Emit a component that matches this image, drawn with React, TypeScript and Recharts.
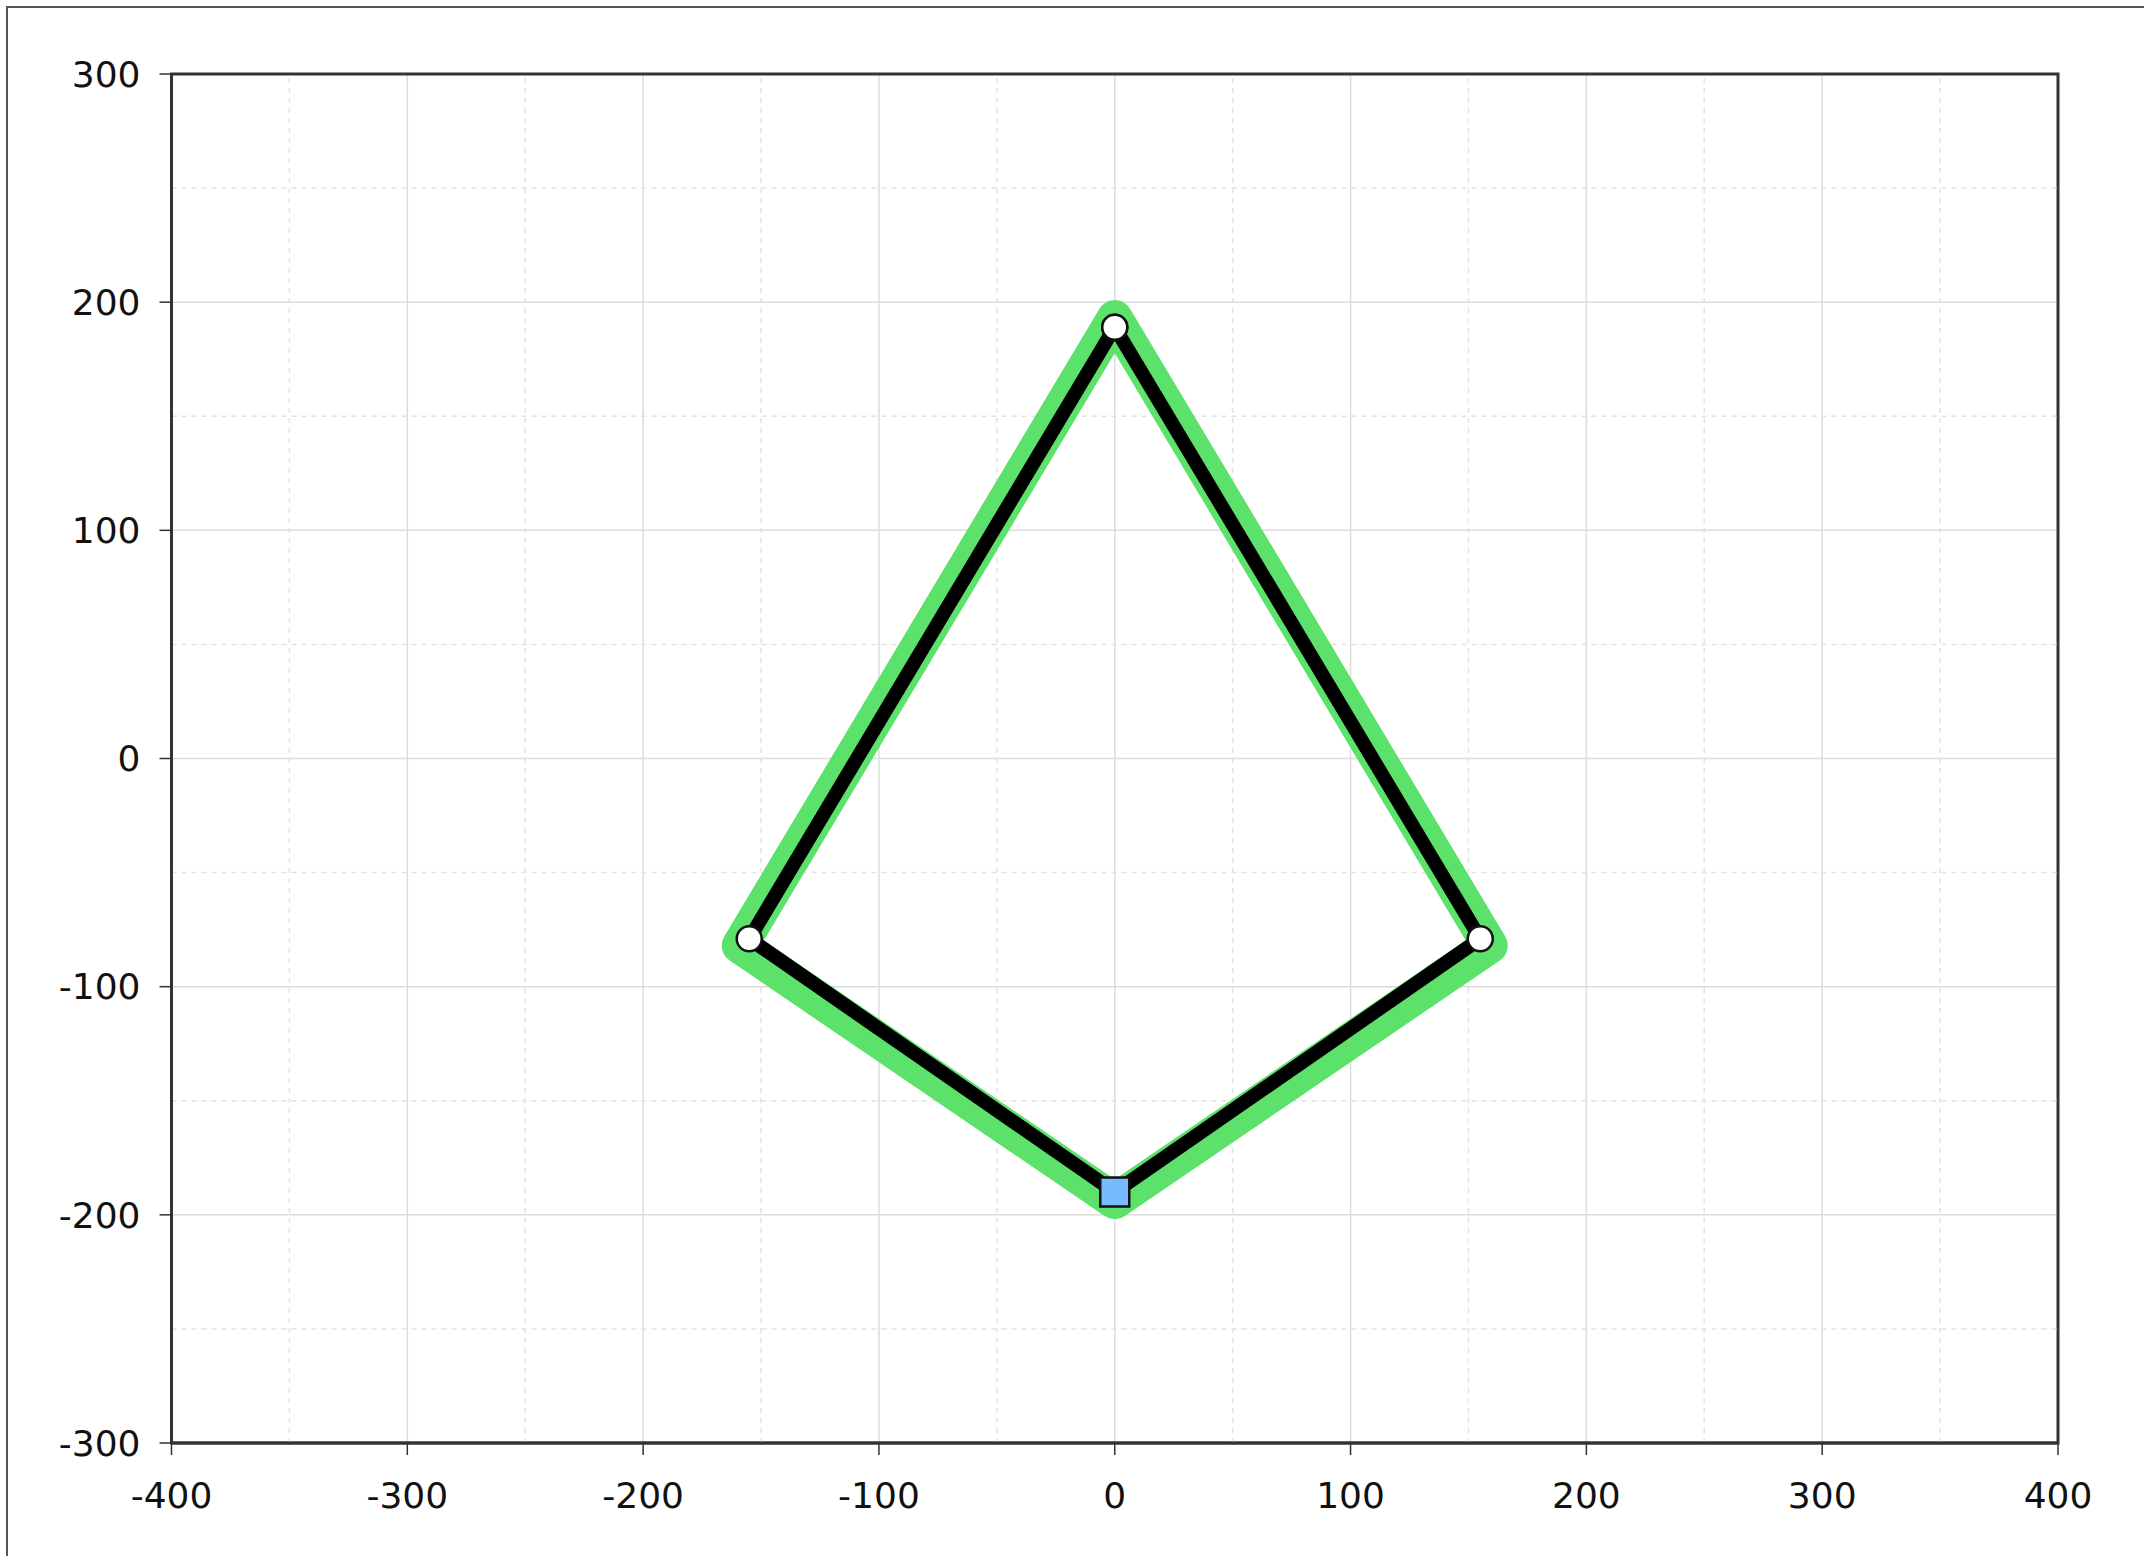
import { LineChart, Line, XAxis, YAxis, CartesianGrid, ReferenceLine, ReferenceArea } from 'recharts';

const xTicks = [-400, -300, -200, -100, 0, 100, 200, 300, 400];
const yTicks = [-300, -200, -100, 0, 100, 200, 300];
const xMinor = [-350, -250, -150, -50, 50, 150, 250, 350];
const yMinor = [-250, -150, -50, 50, 150, 250];

// closed loop: top -> right -> bottom -> left -> top
const outline = [
  { x: 0, y: 193 },
  { x: 159, y: -82 },
  { x: 0, y: -194 },
  { x: -159, y: -82 },
  { x: 0, y: 193 },
];

const frame = [
  { x: 0, y: 189, kind: 'joint' },
  { x: 155, y: -79, kind: 'joint' },
  { x: 0, y: -190, kind: 'base' },
  { x: -155, y: -79, kind: 'joint' },
  { x: 0, y: 189, kind: 'joint' },
];

const FONT = '"DejaVu Sans", Verdana, sans-serif';

function FrameDot(props: any) {
  const { cx, cy, payload, index } = props;
  if (cx == null || cy == null) return null;
  if (payload.kind === 'base') {
    return (
      <rect key={index} x={cx - 14.5} y={cy - 14.5} width={29} height={29}
        fill="#77bbff" stroke="#111" strokeWidth={2.5} />
    );
  }
  return <circle key={index} cx={cx} cy={cy} r={12.5} fill="#fff" stroke="#111" strokeWidth={2.5} />;
}

export default function App() {
  const tickStyle = { fontSize: 36, fill: '#111', fontFamily: FONT };
  return (
    <div style={{ width: 2128, height: 1540 }}>
      <div style={{
        position: 'fixed', left: 6, top: 6, right: -20, bottom: -20, zIndex: 10,
        borderTop: '2px solid #555', borderLeft: '2px solid #555', pointerEvents: 'none',
      }} />
      <LineChart width={2128} height={1540} margin={{ top: 66, right: 78, bottom: 45, left: 43.5 }}>
        <CartesianGrid stroke="#dcdcdc" strokeWidth={1.5} />
        {xMinor.map((v) => (
          <ReferenceLine key={'x' + v} x={v} stroke="#e2e2e2" strokeWidth={1.5} strokeDasharray="5 5" />
        ))}
        {yMinor.map((v) => (
          <ReferenceLine key={'y' + v} y={v} stroke="#e2e2e2" strokeWidth={1.5} strokeDasharray="5 5" />
        ))}
        <ReferenceArea x1={-400} x2={400} y1={-300} y2={300} fill="none" stroke="#333" strokeWidth={3} />
        <XAxis type="number" dataKey="x" domain={[-400, 400]} ticks={xTicks} allowDataOverflow
          height={60} tickSize={12} tickMargin={27} axisLine={{ stroke: '#333', strokeWidth: 3 }}
          tickLine={{ stroke: '#333', strokeWidth: 1.5 }} tick={tickStyle} interval={0} />
        <YAxis type="number" dataKey="y" domain={[-300, 300]} ticks={yTicks} allowDataOverflow
          width={120} tickSize={12} tickMargin={19} axisLine={{ stroke: '#333', strokeWidth: 3 }}
          tickLine={{ stroke: '#333', strokeWidth: 1.5 }} tick={tickStyle} interval={0} />
        <Line data={outline} dataKey="y" stroke="#5ce26a" strokeWidth={36} strokeLinejoin="round"
          strokeLinecap="round" dot={false} activeDot={false} isAnimationActive={false} />
        <Line data={frame} dataKey="y" stroke="#000" strokeWidth={14} strokeLinejoin="round"
          dot={<FrameDot />} activeDot={false} isAnimationActive={false} />
      </LineChart>
    </div>
  );
}
